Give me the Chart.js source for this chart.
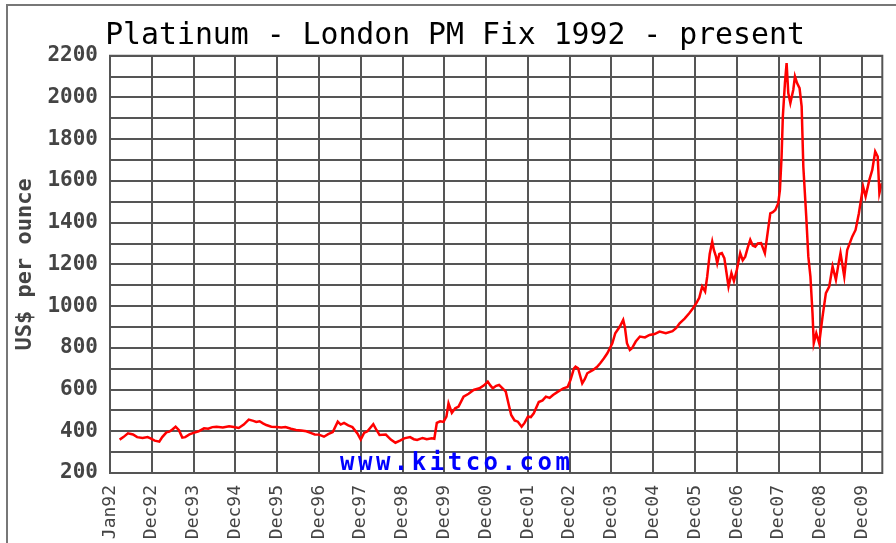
<!DOCTYPE html>
<html>
<head>
<meta charset="utf-8">
<script src="https://cdn.jsdelivr.net/npm/chart.js@4.4.1/dist/chart.umd.min.js"></script>
<style>
    html, body { margin: 0; padding: 0; background: #fff; }
    #wrap { width: 896px; height: 543px; overflow: hidden; }
</style>
</head>
<body>
<div id="wrap"><canvas id="chart" width="896" height="543"></canvas></div>
<script>
// Platinum London PM fix (decimal year, US$/oz)
const dates = [
    1992.23, 1992.32, 1992.43, 1992.55, 1992.65, 1992.78, 1992.90, 1992.97,
    1993.07, 1993.18, 1993.25, 1993.35, 1993.42, 1993.50, 1993.57, 1993.65, 1993.73, 1993.80, 1993.90,
    1994.00, 1994.12, 1994.25, 1994.35, 1994.45, 1994.55, 1994.70, 1994.85, 1994.96,
    1995.08, 1995.20, 1995.32, 1995.43, 1995.50, 1995.58, 1995.66, 1995.74, 1995.86, 1995.98,
    1996.10, 1996.20, 1996.33, 1996.45, 1996.58, 1996.70, 1996.80, 1996.90,
    1997.00, 1997.12, 1997.22, 1997.33, 1997.45, 1997.52, 1997.60, 1997.70, 1997.80, 1997.92,
    1998.00, 1998.08, 1998.16, 1998.30, 1998.38, 1998.45, 1998.60, 1998.72, 1998.83, 1998.95,
    1999.04, 1999.18, 1999.27, 1999.35, 1999.48, 1999.58, 1999.70, 1999.76, 1999.82, 1999.90, 1999.98,
    2000.05, 2000.10, 2000.18, 2000.26, 2000.34, 2000.46, 2000.58, 2000.70, 2000.84, 2000.95,
    2001.04, 2001.10, 2001.16, 2001.24, 2001.31, 2001.40, 2001.47, 2001.55, 2001.60, 2001.68, 2001.76, 2001.85, 2001.92,
    2002.00, 2002.07, 2002.14, 2002.26, 2002.35, 2002.43, 2002.52, 2002.60, 2002.72, 2002.85, 2002.95,
    2003.02, 2003.10, 2003.14, 2003.20, 2003.30, 2003.36, 2003.42, 2003.56, 2003.65, 2003.73, 2003.82, 2003.90,
    2004.02, 2004.09, 2004.20, 2004.28, 2004.32, 2004.37, 2004.44, 2004.49, 2004.58, 2004.68, 2004.80, 2004.91,
    2005.03, 2005.15, 2005.30, 2005.46, 2005.55, 2005.63, 2005.75, 2005.86, 2005.95,
    2006.03, 2006.10, 2006.17, 2006.24, 2006.29, 2006.35, 2006.41, 2006.45, 2006.50, 2006.53, 2006.58,
    2006.64, 2006.70, 2006.73, 2006.80, 2006.87, 2006.93,
    2007.00, 2007.08, 2007.14, 2007.20, 2007.26, 2007.32, 2007.38, 2007.44, 2007.50, 2007.58, 2007.67,
    2007.74, 2007.80, 2007.86, 2007.92, 2007.99,
    2008.03, 2008.07, 2008.10, 2008.15, 2008.19, 2008.23, 2008.28, 2008.35, 2008.39, 2008.44, 2008.50,
    2008.55, 2008.59, 2008.66, 2008.71, 2008.76, 2008.81, 2008.84, 2008.90, 2008.97,
    2009.05, 2009.13, 2009.21, 2009.29, 2009.37, 2009.43, 2009.48, 2009.57, 2009.64, 2009.76, 2009.84, 2009.92,
    2010.02, 2010.08, 2010.17, 2010.24, 2010.31, 2010.37, 2010.41, 2010.47
];
const prices = [
    360, 372, 390, 385, 372, 368, 372, 366,
    355, 350, 372, 395, 398, 410, 422, 405, 370, 372, 385,
    392, 400, 414, 412, 420, 422, 418, 424, 420,
    416, 432, 456, 450, 445, 448, 438, 430, 422, 420,
    418, 420, 412, 406, 404, 400, 392, 385,
    384, 374, 386, 396, 446, 432, 440, 428, 420, 390,
    360, 392, 400, 434, 405, 382, 384, 360, 345, 356,
    366, 372, 362, 358, 368, 362, 366, 364, 440, 448, 445,
    470, 534, 488, 510, 518, 566, 580, 598, 606, 620,
    638, 620, 606, 618, 622, 605, 590, 520, 478, 452, 446, 422, 440,
    470, 468, 486, 540, 548, 566, 560, 574, 590, 606, 612,
    646, 700, 710, 702, 630, 650, 678, 694, 708, 726, 750, 774,
    822, 870, 902, 934, 900, 822, 790, 798, 830, 854, 850, 862,
    866, 878, 870, 880, 895, 918, 940, 966, 990,
    1014, 1040, 1094, 1070, 1141, 1250, 1309, 1269, 1237, 1206, 1250,
    1254, 1230, 1190, 1094, 1158, 1120,
    1174, 1254, 1220, 1237, 1280, 1318, 1290, 1285, 1300, 1302, 1254,
    1357, 1445, 1450, 1461, 1493,
    1557, 1717, 1909, 2069, 2165, 2021, 1973, 2037, 2101, 2069, 2045,
    1957, 1669, 1429, 1237, 1141, 966, 822, 870, 822,
    950, 1062, 1094, 1190, 1126, 1200, 1254, 1141, 1269, 1333, 1365, 1445,
    1573, 1525, 1605, 1653, 1741, 1717, 1541, 1590
];

const tickYears = [1992, 1993, 1994, 1995, 1996, 1997, 1998, 1999, 2000, 2001,
    2002, 2003, 2004, 2005, 2006, 2007, 2008, 2009, 2010];
const tickLabels = ['Jan92', 'Dec92', 'Dec93', 'Dec94', 'Dec95', 'Dec96', 'Dec97', 'Dec98', 'Dec99', 'Dec00',
    'Dec01', 'Dec02', 'Dec03', 'Dec04', 'Dec05', 'Dec06', 'Dec07', 'Dec08', 'Dec09'];
const xMax = 2010.48;
const yMin = 200;
const yMax = 2200;

const titleText = 'Platinum - London PM Fix 1992 - present';
const yTitle = 'US$ per ounce';
const watermark = 'www.kitco.com';

const gridColor = '#555555';
const mono = '"DejaVu Sans Mono", "Liberation Mono", monospace';

// outer frame, plot border and the kitco watermark
const framePlugin = {
    id: 'frame',
    beforeDraw(chart) {
        const ctx = chart.ctx;
        ctx.save();
        ctx.fillStyle = '#fff';
        ctx.fillRect(0, 0, chart.width, chart.height);
        ctx.restore();
    },
    afterDraw(chart) {
        const ctx = chart.ctx;
        const a = chart.chartArea;
        ctx.save();
        ctx.strokeStyle = '#777';
        ctx.lineWidth = 2;
        ctx.beginPath();
        ctx.moveTo(7, chart.height);
        ctx.lineTo(7, 5);
        ctx.lineTo(chart.width, 5);
        ctx.stroke();

        ctx.strokeStyle = gridColor;
        ctx.strokeRect(a.left, a.top, a.right - a.left, a.bottom - a.top);

        ctx.font = 'bold 24px ' + mono;
        ctx.letterSpacing = '3.5px';
        ctx.fillStyle = '#0000ff';
        ctx.textBaseline = 'alphabetic';
        ctx.fillText(watermark, a.left + 230, a.bottom - 3);
        ctx.restore();
    }
};

new Chart(document.getElementById('chart'), {
    type: 'line',
    data: {
        datasets: [{
            data: dates.map((d, i) => ({ x: d, y: prices[i] })),
            borderColor: '#ff0000',
            borderWidth: 2.5,
            pointRadius: 0,
            tension: 0,
            fill: false
        }]
    },
    options: {
        responsive: false,
        animation: false,
        layout: { autoPadding: false, padding: { left: 20, right: 6, top: 0, bottom: 0 } },
        plugins: {
            legend: { display: false },
            tooltip: { enabled: false },
            title: {
                display: true,
                text: titleText,
                color: '#000',
                font: { family: mono, size: 29.8, weight: 'normal', lineHeight: 1.2 },
                padding: { top: 18, bottom: 2 }
            }
        },
        scales: {
            x: {
                type: 'linear',
                min: tickYears[0],
                max: xMax,
                afterBuildTicks: (scale) => {
                    scale.ticks = tickYears.map(v => ({ value: v }));
                },
                afterFit: (scale) => { scale.height = 70; },
                grid: { color: gridColor, lineWidth: 2, drawTicks: false },
                border: { display: false },
                ticks: {
                    autoSkip: false,
                    minRotation: 90,
                    maxRotation: 90,
                    padding: 12,
                    color: '#444',
                    font: { family: mono, size: 18 },
                    callback: (value) => {
                        const i = tickYears.indexOf(value);
                        return i >= 0 ? tickLabels[i] : '';
                    }
                }
            },
            y: {
                min: yMin,
                max: yMax,
                afterFit: (scale) => { scale.width = 90; },
                grid: { color: gridColor, lineWidth: 2, drawTicks: false },
                border: { display: false },
                title: {
                    display: true,
                    text: yTitle,
                    color: '#444',
                    font: { family: mono, size: 22, weight: 'bold', lineHeight: 0.5 },
                    padding: { top: 0, bottom: 0 }
                },
                ticks: {
                    stepSize: 100,
                    autoSkip: false,
                    padding: 12,
                    color: '#444',
                    font: { family: mono, size: 21, weight: 'bold' },
                    callback: (value) => (value % 200 === 0 ? value : '')
                }
            }
        }
    },
    plugins: [framePlugin]
});
</script>
</body>
</html>
